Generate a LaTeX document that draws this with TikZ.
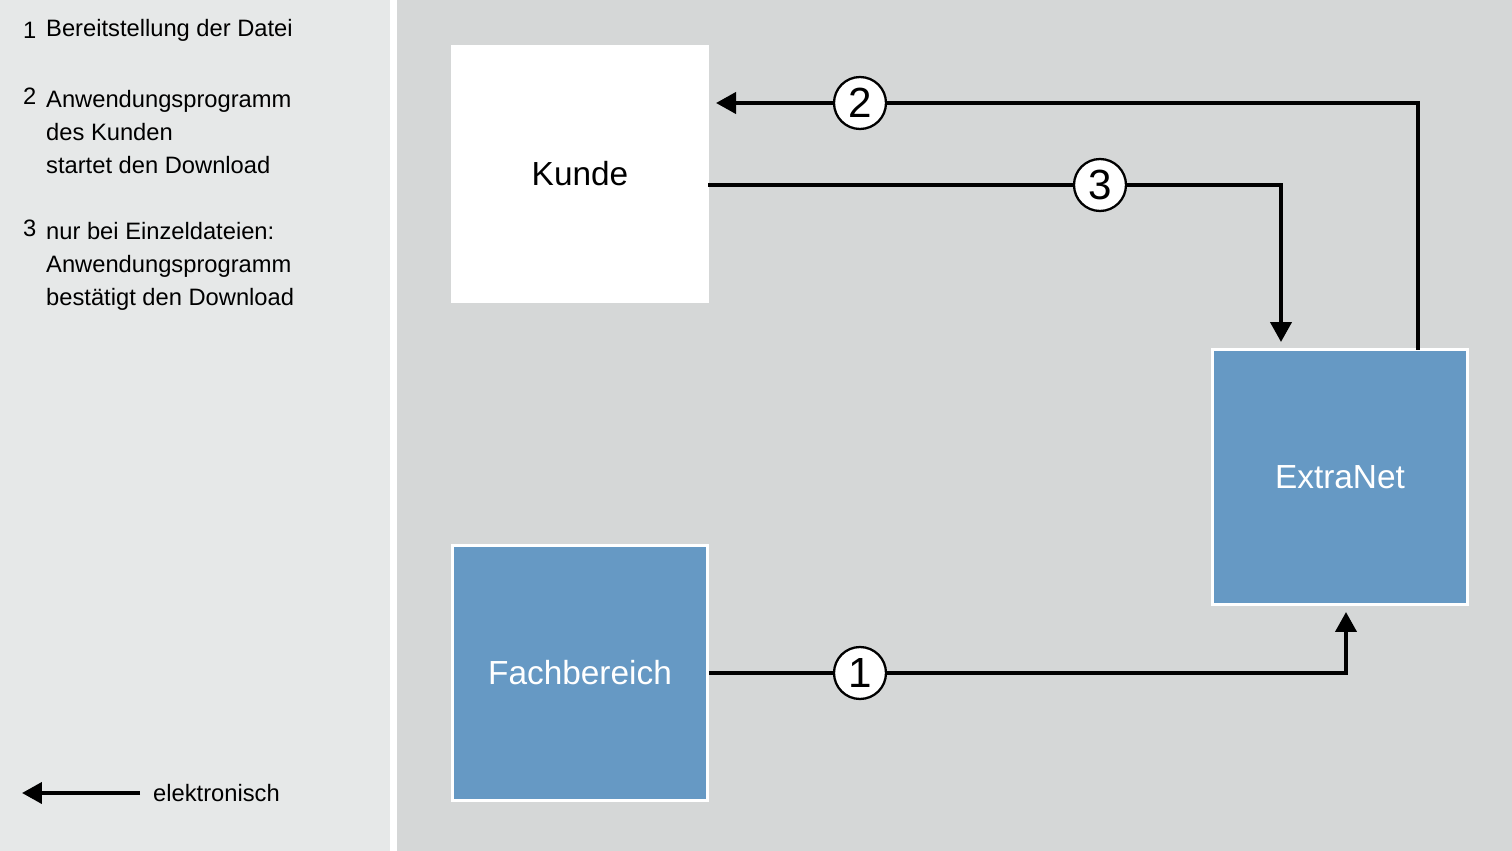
\documentclass[tikz,border=0pt]{standalone}
\usepackage{fontspec}
\setmainfont{Liberation Sans}
\usetikzlibrary{arrows.meta}
\definecolor{paneleft}{HTML}{E6E8E8}
\definecolor{paneright}{HTML}{D5D7D7}
\definecolor{boxblue}{HTML}{6699C4}
\tikzset{
	box/.style={draw=white, line width=1.5pt, minimum width=5.1cm, minimum height=5.1cm, inner sep=0pt, font=\fontsize{19}{22}\selectfont},
	flow/.style={line width=2.3pt, -{Triangle[length=0.4cm, width=0.42cm]}},
	step/.style={},
	num/.style={circle, draw=black, fill=white, line width=1.3pt, minimum size=1.04cm, inner sep=0pt, font=\fontsize{24}{24}\selectfont},
	legend/.style={anchor=west, font=\fontsize{13.5}{18.7}\selectfont, align=left}
}
\begin{document}
\begin{tikzpicture}[x=0.02cm, y=-0.02cm]
	% Hintergrund
	\useasboundingbox (0,0) rectangle (1512,851);
	\fill[paneleft] (0,0) rectangle (390,851);
	\fill[white] (390,0) rectangle (397,851);
	\fill[paneright] (397,0) rectangle (1512,851);

	% Legende
	\node[legend] (n1) at (17,30) {1};
	\node[legend] (t1) at (40,30) {Bereitstellung der Datei};
	\node[legend] (n2) at (17,96) {2};
	\node[legend, anchor=north west] (t2) at (40,84) {Anwendungsprogramm\\des Kunden\\startet den Download};
	\node[legend] (n3) at (17,228) {3};
	\node[legend, anchor=north west] (t3) at (40,216) {nur bei Einzeldateien:\\Anwendungsprogramm\\bestätigt den Download};
	\coordinate (lstart) at (140,793);
	\node[legend] (elek) at (147,793) {elektronisch};
	\coordinate (lend) at (22,793);
	\draw[flow] (lstart) -- (lend);

	% Bausteine
	\node[box, fill=white, draw=white] (kunde) at (580,174) {Kunde};
	\node[box, fill=boxblue, text=white] (extranet) at (1340,477) {ExtraNet};
	\node[box, fill=boxblue, text=white] (fach) at (580,673) {Fachbereich};

	% Ablauf
	\coordinate (e2) at (1418,350);
	\coordinate (k2) at (716,103);
	\draw[flow] (e2) |- (k2);
	\node[num] (c2) at (860,103) {2};

	\coordinate (k3) at (708,185);
	\coordinate (e3) at (1281,342);
	\draw[flow] (k3) -| (e3);
	\node[num] (c3) at (1100,185) {3};

	\coordinate (e1) at (1346,612);
	\draw[flow] (fach.east) -| (e1);
	\node[num] (c1) at (860,673) {1};
\end{tikzpicture}
\end{document}
